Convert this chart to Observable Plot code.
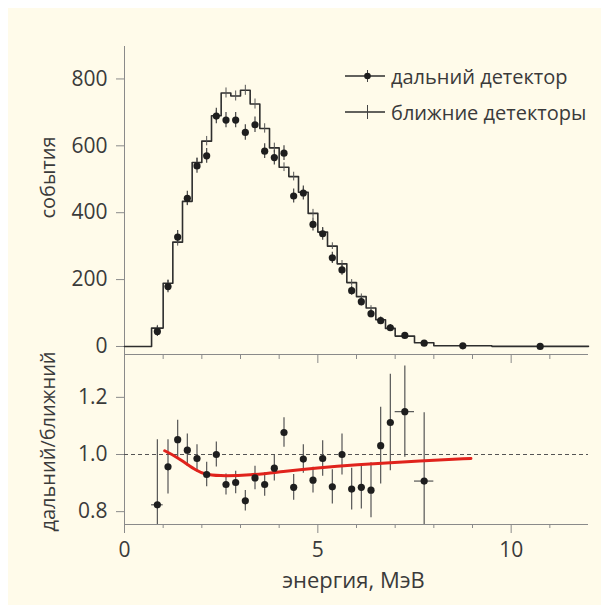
<!DOCTYPE html>
<html>
<head>
<meta charset="utf-8">
<script src="https://cdn.jsdelivr.net/npm/d3@7"></script>
<script src="https://cdn.jsdelivr.net/npm/@observablehq/plot@0.6"></script>
<style>
  html, body { margin: 0; padding: 0; background: #ffffff; }
  #wrap { position: relative; width: 609px; height: 613px; overflow: hidden; font-family: "Open Sans", sans-serif; }
  #panel { position: absolute; left: 8px; top: 8px; width: 593px; height: 597px; background: #fffbea; }
  #wrap svg { position: absolute; left: 0; overflow: visible; }
  .leg { position: absolute; left: 345px; height: 24px; display: flex; align-items: center; color: #3a3a3a; font-size: 20px; white-space: nowrap; }
  .leg svg { position: static !important; margin-right: 6px; }
</style>
</head>
<body>
<div id="wrap"><div id="panel"></div></div>
<script>
// ---------- data ----------
const binEdges = [0.7, 1.0, 1.25, 1.5, 1.75, 2.0, 2.25, 2.5, 2.75, 3.0, 3.25, 3.5, 3.75, 4.0, 4.25, 4.5,
                  4.75, 5.0, 5.25, 5.5, 5.75, 6.0, 6.25, 6.5, 6.75, 7.0, 7.5, 8.0, 9.5, 12.0];
const farEvents = [45, 179, 327, 443, 540, 570, 689, 677, 677, 640, 663, 584, 565, 578, 450, 459,
                   365, 337, 265, 229, 167, 134, 98, 77, 56, 33, 10, 2, 0];
const farErr = [15, 18, 20, 21, 22, 22, 23, 23, 23, 23, 23, 22, 22, 22, 21, 21,
                20, 19, 17, 16, 14, 13, 12, 11, 10, 8, 5, 3, 2];
const nearEvents = [55, 189, 312, 434, 550, 614, 690, 758, 749, 766, 725, 652, 594, 536, 508, 461,
                    398, 342, 300, 247, 191, 149, 115, 80, 54, 31, 11, 2, 0.4];
const nearErr = [8, 10, 12, 13, 14, 14, 15, 15, 15, 15, 15, 14, 14, 13, 13, 12,
                 12, 11, 10, 10, 9, 8, 7, 6, 5, 4, 3, 1, 0];
const ratio = [0.824, 0.957, 1.052, 1.015, 0.986, 0.930, 1.000, 0.895, 0.902, 0.838, 0.918, 0.895, 0.952, 1.077,
               0.885, 0.984, 0.910, 0.986, 0.887, 1.000, 0.879, 0.885, 0.875, 1.031, 1.112, 1.150, 0.907];
const ratioErr = [0.228, 0.095, 0.068, 0.057, 0.048, 0.043, 0.044, 0.037, 0.039, 0.036, 0.041, 0.041, 0.045, 0.052,
                  0.045, 0.050, 0.045, 0.062, 0.060, 0.072, 0.073, 0.076, 0.096, 0.134, 0.169, 0.160, 0.239];
const fitX = [1.04, 1.34, 1.60, 1.86, 2.08, 2.40, 3.25, 4.10, 5.00, 5.85, 7.75, 8.96];
const fitY = [1.013, 0.992, 0.968, 0.944, 0.930, 0.925, 0.927, 0.941, 0.953, 0.963, 0.979, 0.986];

const xDomain = [0, 12];
const yTopDomain = [-24, 897];
const yBotDomain = [0.755, 1.35];
const yTopTicks = [0, 200, 400, 600, 800];
const yBotTicks = [0.8, 1.0, 1.2];
const xMajorTicks = [0, 5, 10];
const xMinorTicks = [1, 2, 3, 4, 6, 7, 8, 9, 11];
const unityLine = [1.0];

const yLabelTop = "события";
const yLabelBot = "дальний/ближний";
const xLabel = "энергия, МэВ";
const legendItems = [
  { label: "дальний детектор", dot: true },
  { label: "ближние детекторы", dot: false }
];

// ---------- derived tables ----------
const bins = farEvents.map((v, i) => ({
  lo: binEdges[i], hi: binEdges[i + 1], c: (binEdges[i] + binEdges[i + 1]) / 2,
  far: v, farErr: farErr[i], near: nearEvents[i], nearErr: nearErr[i]
}));
const steps = [{ x: xDomain[0], y: 0 }]
  .concat(bins.map(b => ({ x: b.lo, y: b.near })))
  .concat([{ x: xDomain[1], y: nearEvents[nearEvents.length - 1] }]);
const ratioRows = ratio.map((v, i) => ({
  lo: binEdges[i], hi: binEdges[i + 1], c: (binEdges[i] + binEdges[i + 1]) / 2, v, e: ratioErr[i]
}));
const fit = fitX.map((x, i) => ({ x, y: fitY[i] }));

const FONT = '"Open Sans", sans-serif';
const AXIS = "#8a8a8a";
const INK = "#3a3a3a";
const MARK = "#1e1e1e";
const TICKFS = 21;

// ---------- top panel ----------
const topPlot = Plot.plot({
  width: 609, height: 370,
  marginLeft: 124, marginRight: 21, marginTop: 46, marginBottom: 16,
  style: { background: "transparent", fontFamily: FONT, fontSize: "21px", color: INK },
  x: { domain: xDomain, axis: null },
  y: { domain: yTopDomain, axis: null },
  marks: [
    Plot.ruleX([xDomain[0]], { stroke: AXIS }),
    Plot.ruleY([yTopDomain[0]], { stroke: AXIS }),
    Plot.axisY(yTopTicks, { tickSize: 8, tickPadding: 9, stroke: AXIS, fill: INK, fontSize: TICKFS, label: null }),
    Plot.axisX(xMinorTicks, { tickSize: 5, stroke: AXIS, tickFormat: () => "", label: null }),
    Plot.axisX(xMajorTicks, { tickSize: 9, stroke: AXIS, tickFormat: () => "", label: null }),
    Plot.line(steps, { x: "x", y: "y", curve: "step-after", stroke: "#2e2e2e", strokeWidth: 1.6 }),
    Plot.ruleX(bins, { x: "c", y1: d => d.near - d.nearErr, y2: d => d.near + d.nearErr, stroke: "#555", strokeWidth: 1 }),
    Plot.ruleX(bins, { x: "c", y1: d => d.far - d.farErr, y2: d => d.far + d.farErr, stroke: "#444", strokeWidth: 1.2 }),
    Plot.dot(bins, { x: "c", y: "far", r: 3.6, fill: MARK, stroke: "none" }),
    Plot.text([yLabelTop], { frameAnchor: "top-left", dx: -76, dy: 131, rotate: -90, textAnchor: "middle", lineAnchor: "middle", fontSize: 20, fill: INK })
  ]
});
topPlot.style.top = "0px";
document.getElementById("wrap").appendChild(topPlot);

// ---------- bottom panel ----------
const botPlot = Plot.plot({
  width: 609, height: 273,
  marginLeft: 124, marginRight: 21, marginTop: 14, marginBottom: 89,
  style: { background: "transparent", fontFamily: FONT, fontSize: "21px", color: INK },
  x: { domain: xDomain, axis: null },
  y: { domain: yBotDomain, axis: null },
  marks: [
    Plot.ruleX([xDomain[0]], { stroke: AXIS }),
    Plot.ruleY([yBotDomain[0]], { stroke: AXIS }),
    Plot.ruleY(unityLine, { stroke: "#555", strokeWidth: 1, strokeDasharray: "4,3" }),
    Plot.axisY(yBotTicks, { tickSize: 8, tickPadding: 9, stroke: AXIS, fill: INK, fontSize: TICKFS, tickFormat: d3.format(".1f"), label: null }),
    Plot.axisX(xMinorTicks, { tickSize: 4, stroke: AXIS, tickFormat: () => "", label: null }),
    Plot.axisX(xMajorTicks, { tickSize: 9, tickPadding: 9, stroke: AXIS, fill: INK, fontSize: TICKFS, label: null }),
    Plot.ruleX(ratioRows, { x: "c", y1: d => d.v - d.e, y2: d => d.v + d.e, stroke: "#555", strokeWidth: 1.2, clip: true }),
    Plot.ruleY(ratioRows.filter(d => d.hi - d.lo > 0.26), { y: "v", x1: "lo", x2: "hi", stroke: "#555", strokeWidth: 1.2 }),
    Plot.line(fit, { x: "x", y: "y", curve: "basis", stroke: "#e0231c", strokeWidth: 3 }),
    Plot.dot(ratioRows, { x: "c", y: "v", r: 3.6, fill: MARK, stroke: "none" }),
    Plot.text([yLabelBot], { frameAnchor: "left", dx: -76, dy: 2, rotate: -90, textAnchor: "middle", lineAnchor: "middle", fontSize: 20, fill: INK }),
    Plot.text([xLabel], { frameAnchor: "bottom", dy: 56, dx: -3, textAnchor: "middle", lineAnchor: "middle", fontSize: 22, fill: INK })
  ]
});
botPlot.style.top = "340px";
document.getElementById("wrap").appendChild(botPlot);

// ---------- legend ----------
const legendTops = [64, 100];
legendItems.forEach((item, i) => {
  const div = document.createElement("div");
  div.className = "leg";
  div.style.top = legendTops[i] + "px";
  const ns = "http://www.w3.org/2000/svg";
  const s = document.createElementNS(ns, "svg");
  s.setAttribute("width", 40); s.setAttribute("height", 24);
  const ln = document.createElementNS(ns, "line");
  ln.setAttribute("x1", 0); ln.setAttribute("x2", 40); ln.setAttribute("y1", 12); ln.setAttribute("y2", 12);
  ln.setAttribute("stroke", "#2e2e2e"); ln.setAttribute("stroke-width", 1.4);
  s.appendChild(ln);
  const vt = document.createElementNS(ns, "line");
  vt.setAttribute("x1", 22.5); vt.setAttribute("x2", 22.5);
  vt.setAttribute("y1", item.dot ? 6 : 5); vt.setAttribute("y2", item.dot ? 18 : 19);
  vt.setAttribute("stroke", "#444"); vt.setAttribute("stroke-width", 1);
  s.appendChild(vt);
  if (item.dot) {
    const c = document.createElementNS(ns, "circle");
    c.setAttribute("cx", 22.5); c.setAttribute("cy", 12); c.setAttribute("r", 3.3); c.setAttribute("fill", MARK);
    s.appendChild(c);
  }
  div.appendChild(s);
  const t = document.createElement("span");
  t.textContent = item.label;
  div.appendChild(t);
  document.getElementById("wrap").appendChild(div);
});
</script>
</body>
</html>
